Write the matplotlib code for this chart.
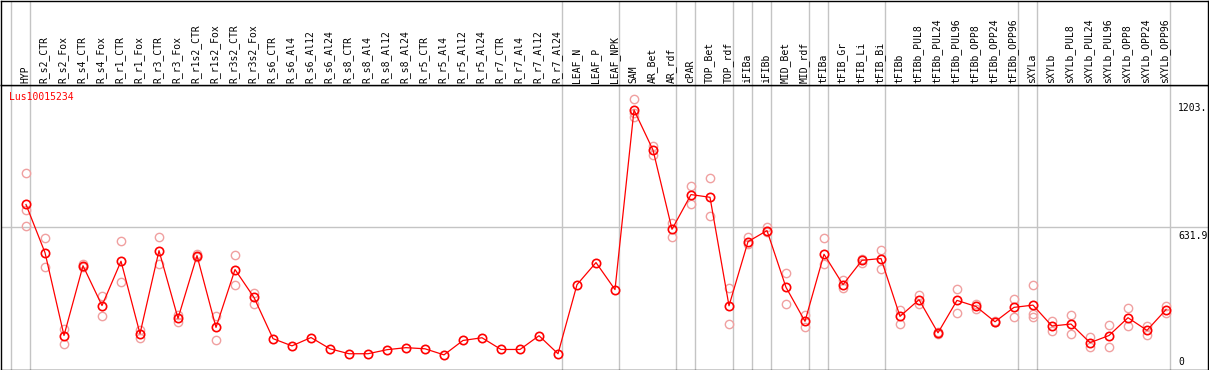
import numpy as np
import matplotlib.pyplot as plt
from matplotlib.transforms import blended_transform_factory

# column labels
samples = ["HYP", "R_s2_CTR", "R_s2_Fox", "R_s4_CTR", "R_s4_Fox", "R_r1_CTR", "R_r1_Fox",
           "R_r3_CTR", "R_r3_Fox", "R_r1s2_CTR", "R_r1s2_Fox", "R_r3s2_CTR", "R_r3s2_Fox",
           "R_s6_CTR", "R_s6_Al4", "R_s6_Al12", "R_s6_Al24", "R_s8_CTR", "R_s8_Al4",
           "R_s8_Al12", "R_s8_Al24", "R_r5_CTR", "R_r5_Al4", "R_r5_Al12", "R_r5_Al24",
           "R_r7_CTR", "R_r7_Al4", "R_r7_Al12", "R_r7_Al24", "LEAF_N", "LEAF_P", "LEAF_NPK",
           "SAM", "AR_Bet", "AR_rdf", "cPAR", "TOP_Bet", "TOP_rdf", "iFIBa", "iFIBb",
           "MID_Bet", "MID_rdf", "tFIBa", "tFIB_Gr", "tFIB_Li", "tFIB_Bi", "tFIBb",
           "tFIBb_PUL8", "tFIBb_PUL24", "tFIBb_PUL96", "tFIBb_OPP8", "tFIBb_OPP24",
           "tFIBb_OPP96", "sXYLa", "sXYLb", "sXYLb_PUL8", "sXYLb_PUL24", "sXYLb_PUL96",
           "sXYLb_OPP8", "sXYLb_OPP24", "sXYLb_OPP96"]

# mean expression per sample
means = [733, 519, 151, 461, 284, 481, 159, 528, 227, 506, 187, 444, 320,
         137, 105, 142, 92, 70, 70, 88, 97, 92, 65, 129, 141, 89, 89, 150, 70,
         377, 475, 355,
         1153, 975, 623, 777, 765, 283, 568, 617, 365, 214,
         512, 377, 485, 493, 236, 310, 163, 307, 280, 212, 276,
         286, 193, 202, 119, 151, 230, 174, 266]

# individual replicates (empty where only one value)
replicates = [[872, 708, 636], [582, 455], [181, 114], [467, 454], [328, 239],
              [570, 390], [177, 139], [587, 470], [240, 210], [512, 500],
              [239, 132], [510, 377], [341, 292],
              [], [], [], [], [], [], [], [], [], [], [], [], [], [], [], [],
              [], [], [],
              [1203, 1120, 1138], [994, 952], [651, 589], [817, 733], [850, 680],
              [364, 203], [589, 556], [631, 611], [430, 292], [240, 188],
              [586, 470], [396, 362], [493, 475], [530, 448], [266, 203],
              [329, 292], [166, 159], [359, 252], [289, 270], [216, 209], [315, 233],
              [377, 245, 233], [214, 170], [243, 159], [144, 99], [199, 102],
              [271, 194], [193, 154], [280, 252]]

# first sample of each group (vertical separators)
group_starts = ["HYP", "R_s2_CTR", "LEAF_N", "SAM", "cPAR", "TOP_Bet", "iFIBa", "iFIBb",
                "MID_Bet", "tFIBa", "tFIB_Gr", "tFIBb", "sXYLa", "sXYLb"]

gene = "Lus10015234"
ymax = 1203.0
ytop = 1263.8

W, H = 1209, 370
fig = plt.figure(figsize=(W / 100, H / 100), dpi=100)
plt.rcParams['font.family'] = ['DejaVu Sans Mono']

ax = fig.add_axes([1 / W, 0.5 / H, 1207 / W, 284.5 / H])
ax_lab = fig.add_axes([1 / W, 285 / H, 1207 / W, 84.5 / H])

x = np.arange(len(samples))
xl = (1 - 26) / 19, (1208 - 26) / 19
for a in (ax, ax_lab):
    a.set_xlim(*xl)
    a.set_xticks([])
    a.set_yticks([])
    for s in a.spines.values():
        s.set_linewidth(1.0)
        s.set_color('black')
    for g in group_starts:
        a.axvline(samples.index(g) - 15 / 19, color='#c4c4c4', lw=1.0, zorder=0)
    a.axvline(len(samples) - 15 / 19, color='#c4c4c4', lw=1.0, zorder=0)

ax_lab.set_ylim(0, 1)

ax.set_ylim(0, ytop)
ax.axhline(ytop / 2, color='#c4c4c4', lw=1.0, zorder=0)

# replicates
rx, ry = [], []
for i, reps in enumerate(replicates):
    for r in reps:
        rx.append(i)
        ry.append(r)
ax.plot(rx, ry, 'o', ls='none', ms=6, mfc='none', mec='#f0a0a0', mew=1.0, zorder=2)

# means
ax.plot(x, means, '-', color='red', lw=0.9, zorder=3)
ax.plot(x, means, 'o', ls='none', ms=6, mfc='none', mec='red', mew=1.2, zorder=4)

ax.text(-0.88, 1210, gene, color='red', fontsize=7, ha='left', va='center')

# value labels on the right
lx = (1178 - 26) / 19
ax.text(lx, ymax - 18, "1203.", fontsize=7, ha='left', va='top')
ax.text(lx, ytop / 2 - 18, "631.9", fontsize=7, ha='left', va='top')
ax.text(lx, 10, "0", fontsize=7, ha='left', va='bottom')

trans = blended_transform_factory(ax_lab.transData, ax_lab.transAxes)
for i, s in enumerate(samples):
    ax_lab.text(i - 0.05, 0.025, s, rotation=90, fontsize=7, ha='center', va='bottom',
                transform=trans)

fig.savefig("out.png", dpi=100)
